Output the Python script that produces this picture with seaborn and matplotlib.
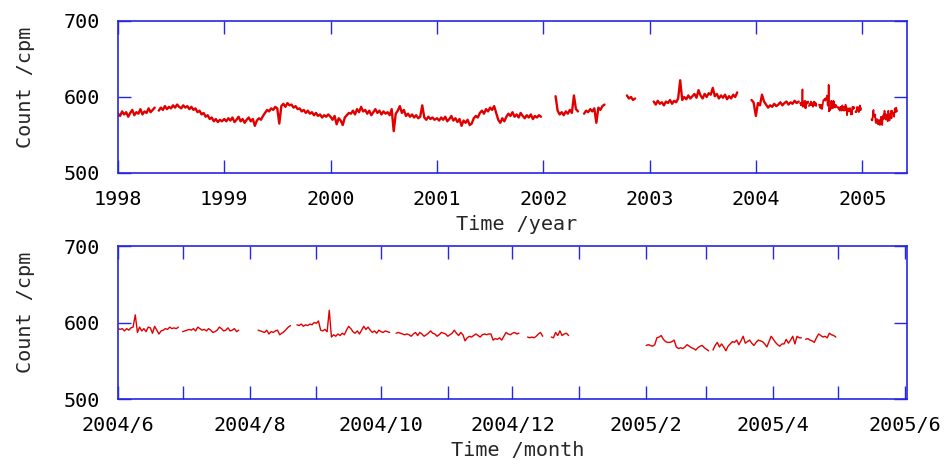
import numpy as np
import pandas as pd
import matplotlib
matplotlib.use("Agg")
import matplotlib.pyplot as plt
import matplotlib.dates as mdates
from matplotlib.ticker import FuncFormatter
import seaborn as sns

nan = np.nan

# ---- weekly readings (one per week, starting Jan 1 of each year) ----
weekly_1998 = [578, 575, 581, 577, 580, 574, 579, 583, 576, 580, 578, 584, 577, 581, 579, 585, 580, 583, 586,
               nan,
               582, 586, 583, 588, 584, 587, 585, 589, 586, 590, 587, 585, 589, 586, 588, 584, 587,
               583, 585, 580, 582, 577, 579, 574, 576, 571, 573,
               568, 571, 567, 570, 568]
weekly_1999 = [571, 568, 572, 569, 573, 567, 570, 574, 568, 571, 566, 570, 573, 568, 571, 562, 569, 572, 570,
               575, 579, 583, 581, 585, 583, 587, 585,
               565,
               588, 591, 587, 592, 589, 590, 586, 588, 584,
               585, 581, 583, 579, 582, 578, 580, 576, 579, 575, 577, 573, 576, 574, 577]
weekly_2000 = [574, 570, 575, 564, 572, 569,
               563, 573, 576, 579,
               578, 582, 577, 584, 580, 587, 581, 583, 578, 582, 576, 580, 584, 579, 582, 577, 581, 578,
               580, 576, 584, 555,
               578, 582, 588, 579, 583,
               575, 578, 574, 577, 573, 576, 572, 574,
               589, 573, 570, 574, 571, 573, 570]
weekly_2001 = [572, 569, 573, 570, 574, 568, 571, 575, 569, 572, 567, 571, 562, 569, 566, 570, 563,
               565, 572, 575, 573, 579, 582, 578, 584, 581, 586, 583, 588,
               579, 570, 566, 572, 568, 574,
               578, 575, 580, 574, 577, 573, 579, 575, 572, 576, 573, 577, 571, 575, 573, 576, 574]
weekly_2002 = [nan, nan, nan, nan, nan, nan,
               601, 582, 577, 580, 576, 581, 578, 583, 579, 602, 584, 581,
               nan, nan,
               578, 582, 580, 584, 581, 585, 566, 586, 583, 588, 590,
               nan, nan, nan, nan, nan, nan, nan, nan, nan, nan,
               602, 598, 600, 596, 598,
               nan, nan, nan, nan, nan, nan]
weekly_2003 = [nan, nan,
               594, 590, 595, 591, 593, 589, 594, 592, 596, 591, 595, 593, 598,
               622,
               596, 600, 597, 602, 598, 601, 604, 599,
               609,
               602, 598, 604, 600, 605, 603,
               612,
               601, 604, 598, 602, 599, 603, 597, 601, 598, 603, 600, 606,
               nan, nan, nan, nan, nan, nan,
               596, 593]
weekly_2004 = [575, 592, 589, 603, 594, 590, 586, 589, 587, 591, 588, 590, 593, 589, 592, 594,
               590, 593, 591, 595, 592, 594]

weekly = {1998: weekly_1998, 1999: weekly_1999, 2000: weekly_2000, 2001: weekly_2001,
          2002: weekly_2002, 2003: weekly_2003, 2004: weekly_2004}

# ---- daily readings, June 2004 - April 2005, in runs without gaps ----
daily_starts = ["2004-06-01", "2004-07-01", "2004-08-05", "2004-08-23", "2004-10-08",
                "2004-12-08", "2004-12-19", "2005-02-01", "2005-03-04", "2005-04-16"]
run_jun = [592, 591, 592, 589, 592, 590, 593, 594, 610, 587, 594, 589, 592, 588, 594, 593, 586, 595,
           590, 585, 589, 590, 592, 591, 594, 592, 593, 592, 594]
run_jul = [588, 589, 590, 591, 590, 592, 589, 594, 592, 590, 591, 589, 592, 590, 587, 588, 590, 594,
           592, 589, 590, 593, 589, 590, 592, 588, 590]
run_aug = [590, 589, 588, 587, 590, 585, 588, 587, 589, 590, 584, 586, 588, 591, 594, 596]
run_sep = [597, 596, 598, 595, 597, 596, 598, 597, 600, 599, 602, 590, 589, 591, 588, 616, 581,
           584, 582, 585, 583, 586, 584, 590, 595, 592, 588, 586, 589, 585, 590, 595, 591,
           594, 590, 587, 589, 586, 590, 588, 587, 589, 588, 587]
run_oct = [586, 587, 586, 585, 584, 585, 584, 582, 585, 587,
           583, 587, 585, 582, 584, 586, 589, 586, 585, 582,
           584, 587, 586, 585, 582, 584, 586, 590, 586, 583,
           587, 584, 576, 580, 582, 581, 583, 585, 583, 581,
           584, 585, 584, 585, 585, 577, 579, 578, 580, 577,
           582, 587, 585, 584, 586, 587, 585, 586]
run_dec1 = [581, 580, 581, 580, 582, 585, 587, 582]
run_dec2 = [581, 580, 587, 583, 589, 583, 585, 586, 583]
run_feb = [570, 571, 570, 569, 571, 580, 581, 583, 578, 575, 574, 574, 575, 577, 568, 566, 567, 566,
           568, 571, 569, 567, 566, 564, 567, 569, 570, 567, 565, 563]
run_mar = [564, 570, 574, 568, 572, 568, 563, 569, 572, 575, 574, 577, 571, 576, 582, 573, 575, 577,
           573, 570, 574, 577, 576, 575, 572, 568, 575, 582, 578, 574, 571, 569, 572, 572, 578,
           573, 577, 582, 572, 582, 580, 580]
run_apr = [578, 579, 577, 576, 574, 580, 585, 583, 581, 582, 580, 586, 584, 583, 581]
daily_runs = [run_jun, run_jul, run_aug, run_sep, run_oct, run_dec1, run_dec2, run_feb, run_mar, run_apr]

year_ticks = [str(y) for y in range(1998, 2006)]

# ---- build tables ----
frames = []
for year, vals in weekly.items():
    dates = pd.date_range(f"{year}-01-01", periods=len(vals), freq="7D")
    frames.append(pd.DataFrame({"date": dates, "count": vals}))
weekly_df = pd.concat(frames, ignore_index=True)
weekly_df["seg"] = weekly_df["count"].isna().cumsum()
weekly_df = weekly_df.dropna()

dframes = []
for i, (start, vals) in enumerate(zip(daily_starts, daily_runs)):
    dates = pd.date_range(start, periods=len(vals), freq="D")
    dframes.append(pd.DataFrame({"date": dates, "count": vals, "seg": 1000 + i}))
daily_df = pd.concat(dframes, ignore_index=True)

# ---- style ----
sns.set_style("white")
plt.rcParams["font.family"] = ["DejaVu Sans Mono", "DejaVu Sans"]

blue = "#2626e6"
red = "#e00000"
fs = 14.5

fig = plt.figure(figsize=(9.51, 4.67), dpi=100)
ax1 = fig.add_axes([0.1241, 0.6296, 0.8296, 0.3255])
ax2 = fig.add_axes([0.1241, 0.1456, 0.8296, 0.3276])

sns.lineplot(data=weekly_df, x="date", y="count", units="seg", estimator=None,
             color=red, lw=1.7, ax=ax1, legend=False)
sns.lineplot(data=daily_df, x="date", y="count", units="seg", estimator=None,
             color=red, lw=1.2, ax=ax1, legend=False)
sns.lineplot(data=daily_df, x="date", y="count", units="seg", estimator=None,
             color=red, lw=1.0, ax=ax2, legend=False)

ax1.set_xlim(pd.Timestamp("1998-01-01"), pd.Timestamp("2005-06-03"))
ax1.set_xticks([pd.Timestamp(f"{y}-01-01") for y in year_ticks])
ax1.set_xticklabels(year_ticks)
ax1.set_xlabel("Time /year", fontsize=fs)
ax1.xaxis.set_label_coords(0.505, -0.275)

ax2.set_xlim(pd.Timestamp("2004-06-01"), pd.Timestamp("2005-06-02"))
ax2.xaxis.set_major_locator(mdates.MonthLocator(bymonth=[2, 4, 6, 8, 10, 12]))
ax2.xaxis.set_minor_locator(mdates.MonthLocator(bymonth=[1, 3, 5, 7, 9, 11]))
ax2.xaxis.set_major_formatter(FuncFormatter(
    lambda v, p: f"{mdates.num2date(v).year}/{mdates.num2date(v).month}"))
ax2.set_xlabel("Time /month", fontsize=fs)
ax2.xaxis.set_label_coords(0.507, -0.272)

for ax in (ax1, ax2):
    ax.set_ylim(500, 700)
    ax.set_yticks([500, 600, 700])
    for s in ax.spines.values():
        s.set_visible(True)
        s.set_color(blue)
        s.set_linewidth(1.2)
    ax.tick_params(which="both", direction="in", length=9.5, width=1.0, color=blue,
                   top=True, right=True, bottom=True, left=True, labelsize=fs,
                   labelcolor="black")
    ax.tick_params(axis="y", pad=13)
    ax.tick_params(axis="x", pad=12.5)
    ax.set_ylabel("Count /cpm", fontsize=fs)
    ax.yaxis.set_label_coords(-0.105, 0.563)
    ax.grid(False)

fig.savefig("out.png", dpi=100)
